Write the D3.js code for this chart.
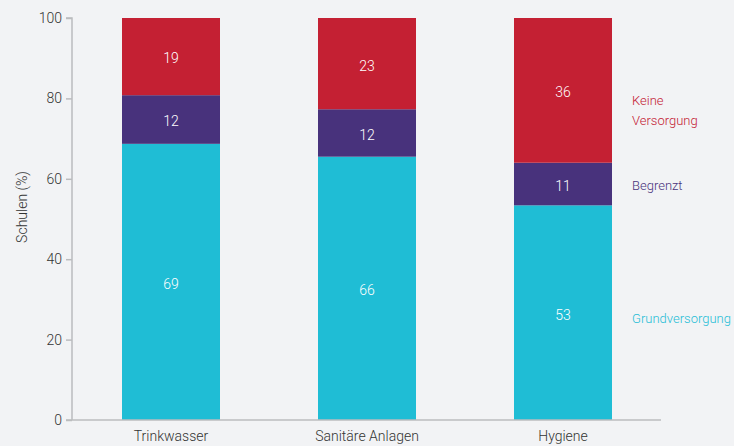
<!DOCTYPE html>
<html>
<head>
<meta charset="utf-8">
<script src="https://cdn.jsdelivr.net/npm/d3@7"></script>
<style>
  body { margin: 0; background: #f2f3f5; }
  svg { display: block; font-family: Roboto, "DejaVu Sans Condensed", sans-serif; font-weight: 300; }
  .tick text { fill: #333; font-size: 14px; font-family: Roboto, sans-serif; }
  .val { fill: #fff; font-size: 14px; }
</style>
</head>
<body>
<svg></svg>
<script>
const w = 734;
const h = 446;

const categories = ["Trinkwasser", "Sanitäre Anlagen", "Hygiene"];
const seriesNames = ["Grundversorgung", "Begrenzt", "Keine Versorgung"];
const grund = [68.7, 65.5, 53.4];
const begrenzt = [12.1, 11.8, 10.6];
const keine = [19.2, 22.7, 36.0];
const yTicks = [0, 20, 40, 60, 80, 100];
const colors = ["#1fbdd5", "#48327c", "#c42033"];

const svg = d3.select("svg").attr("width", w).attr("height", h);

const rows = categories.map((c, i) => ({
  cat: c,
  "Grundversorgung": grund[i],
  "Begrenzt": begrenzt[i],
  "Keine Versorgung": keine[i]
}));
const stacked = d3.stack().keys(seriesNames)(rows);

const x = d3.scaleBand().domain(categories).range([73, 661])
  .paddingInner(0.5).paddingOuter(0.25);
const y = d3.scaleLinear().domain([0, 100]).range([420, 18]);

/** bars */
const layers = svg.selectAll("g.layer")
  .data(stacked)
  .enter()
  .append("g")
  .attr("class", "layer")
  .attr("fill", (d, i) => colors[i]);

layers.selectAll("rect")
  .data((d) => d)
  .enter()
  .append("rect")
  .attr("x", (d) => x(d.data.cat))
  .attr("width", x.bandwidth())
  .attr("y", (d) => y(d[1]))
  .attr("height", (d) => y(d[0]) - y(d[1]));

layers.selectAll("text")
  .data((d) => d)
  .enter()
  .append("text")
  .attr("class", "val")
  .attr("x", (d) => x(d.data.cat) + x.bandwidth() / 2)
  .attr("y", (d) => y((d[0] + d[1]) / 2) + 2)
  .attr("dy", "0.35em")
  .attr("text-anchor", "middle")
  .text((d) => Math.round(d[1] - d[0]));

/** axes */
const yAxis = svg.append("g")
  .attr("transform", "translate(72,0)")
  .call(d3.axisLeft(y).tickValues(yTicks).tickSize(6).tickPadding(4));
yAxis.selectAll("line, path").attr("stroke", "#bbbcbe").attr("stroke-width", 1.5);
yAxis.select(".domain").attr("d", "M-6,18H0V420");

const xAxis = svg.append("g")
  .attr("transform", "translate(0,420)")
  .call(d3.axisBottom(x).tickSize(0).tickPadding(11));
xAxis.select(".domain").attr("d", "M66,0H661").attr("stroke", "#bbbcbe").attr("stroke-width", 1.5);

svg.append("text")
  .attr("transform", "translate(27,207) rotate(-90)")
  .attr("text-anchor", "middle")
  .attr("fill", "#333")
  .style("font-size", "14px")
  .text("Schulen (%)");

/** series labels beside last bar */
const last = categories.length - 1;
const legendLines = [["Grundversorgung"], ["Begrenzt"], ["Keine", "Versorgung"]];
const legendShift = [6, 1, 20];
stacked.forEach((s, i) => {
  const d = s[last];
  const cy = y((d[0] + d[1]) / 2) + legendShift[i];
  const lines = legendLines[i];
  const t = svg.append("text")
    .attr("x", 632)
    .attr("fill", colors[i])
    .style("font-size", "13px");
  lines.forEach((ln, j) => {
    t.append("tspan")
      .attr("x", 632)
      .attr("y", cy + (j - (lines.length - 1) / 2) * 20)
      .attr("dy", "0.35em")
      .text(ln);
  });
});
</script>
</body>
</html>
